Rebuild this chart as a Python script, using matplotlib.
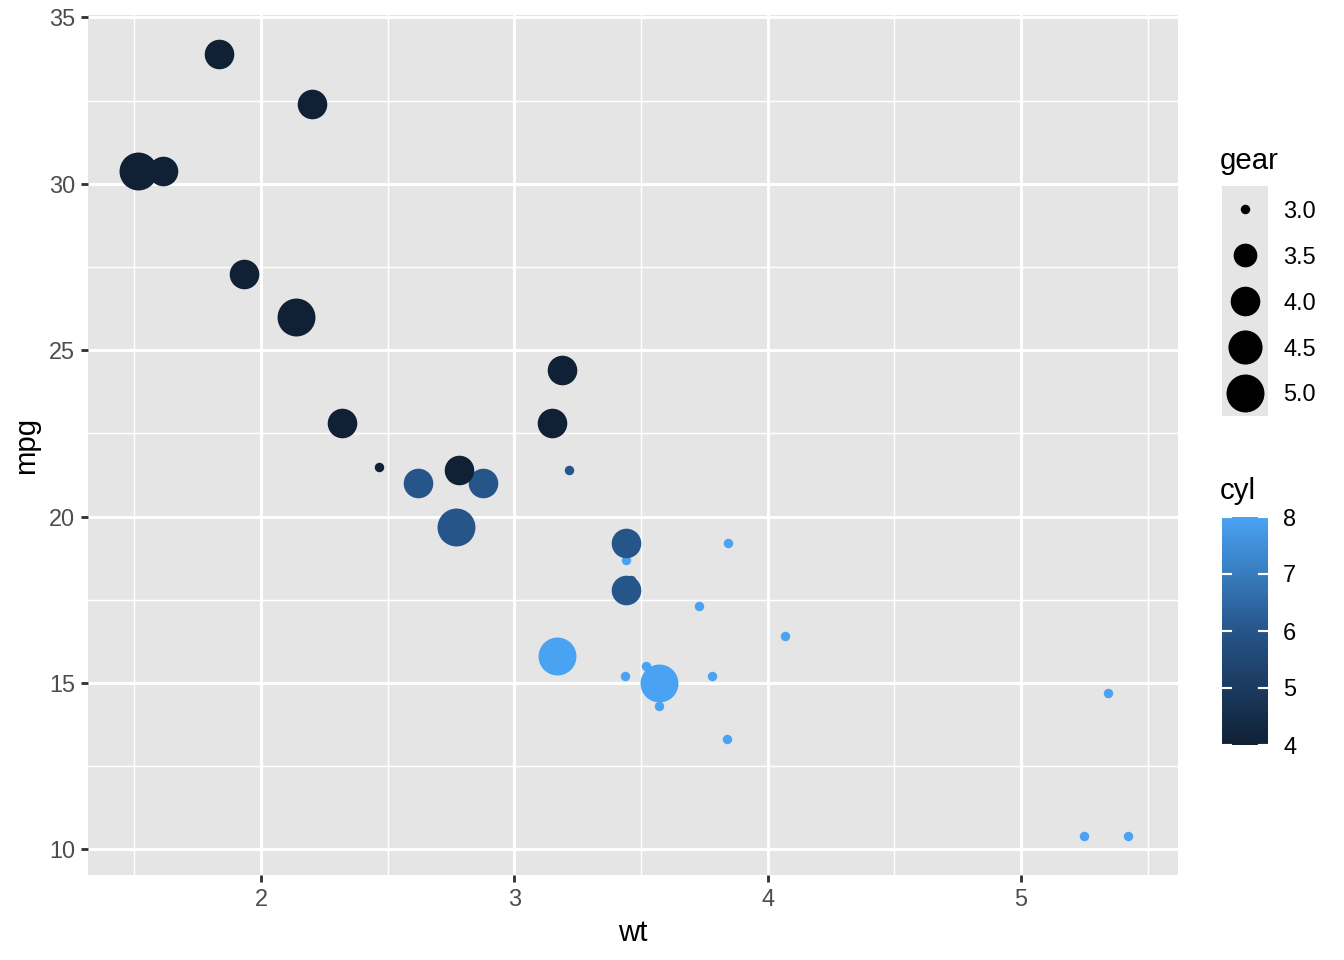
import matplotlib
matplotlib.use("Agg")
import matplotlib.pyplot as plt
import numpy as np
from matplotlib.colors import LinearSegmentedColormap

# mtcars: wt vs mpg, size = gear, colour = cyl
wt = [2.620, 2.875, 2.320, 3.215, 3.440, 3.460, 3.570, 3.190, 3.150, 3.440,
      3.440, 4.070, 3.730, 3.780, 5.250, 5.424, 5.345, 2.200, 1.615, 1.835,
      2.465, 3.520, 3.435, 3.840, 3.845, 1.935, 2.140, 1.513, 3.170, 2.770,
      3.570, 2.780]
mpg = [21.0, 21.0, 22.8, 21.4, 18.7, 18.1, 14.3, 24.4, 22.8, 19.2,
       17.8, 16.4, 17.3, 15.2, 10.4, 10.4, 14.7, 32.4, 30.4, 33.9,
       21.5, 15.5, 15.2, 13.3, 19.2, 27.3, 26.0, 30.4, 15.8, 19.7,
       15.0, 21.4]
cyl = [6, 6, 4, 6, 8, 6, 8, 4, 4, 6,
       6, 8, 8, 8, 8, 8, 8, 4, 4, 4,
       4, 8, 8, 8, 8, 4, 4, 4, 8, 6,
       8, 4]
gear = [4, 4, 4, 3, 3, 3, 3, 4, 4, 4,
        4, 3, 3, 3, 3, 3, 3, 4, 4, 4,
        3, 3, 3, 3, 3, 4, 5, 5, 5, 5,
        5, 4]

x_ticks = [2, 3, 4, 5]
y_ticks = [10, 15, 20, 25, 30, 35]
gear_breaks = [3.0, 3.5, 4.0, 4.5, 5.0]
cyl_breaks = [4, 5, 6, 7, 8]

W, H, DPI = 1344, 960, 192
fig = plt.figure(figsize=(W / DPI, H / DPI), dpi=DPI)
plt.rcParams["font.family"] = ["Liberation Sans", "DejaVu Sans"]

BG = "#E5E5E5"
cmap = LinearSegmentedColormap.from_list("gg", ["#112135", "#26558A", "#4AA3F2"])


def px(x, y, w, h):
    return [x / W, 1 - (y + h) / H, w / W, h / H]


def gear_size(g):
    # ggplot area scale, range 1..6 mm -> marker area in pt^2
    size = 1 + 5 * np.sqrt((np.asarray(g, dtype=float) - 3) / 2)
    fontsize = size * 2.845 + 0.945
    d_px = 0.75 * fontsize / 72 * DPI + 1.9
    return (d_px * 72 / DPI) ** 2


def cyl_color(c):
    return cmap((np.asarray(c, dtype=float) - 4) / 4)


ax = fig.add_axes(px(88, 15, 1090, 860))
ax.set_facecolor(BG)
for s in ax.spines.values():
    s.set_visible(False)

rng_x = max(wt) - min(wt)
rng_y = max(mpg) - min(mpg)
ax.set_xlim(min(wt) - 0.05 * rng_x, max(wt) + 0.05 * rng_x)
ax.set_ylim(min(mpg) - 0.05 * rng_y, max(mpg) + 0.05 * rng_y)

for v in [1.5, 2.5, 3.5, 4.5, 5.5]:
    ax.axvline(v, color="white", lw=0.55, zorder=0)
for v in [12.5, 17.5, 22.5, 27.5, 32.5]:
    ax.axhline(v, color="white", lw=0.55, zorder=0)
for v in x_ticks:
    ax.axvline(v, color="white", lw=1.1, zorder=0)
for v in y_ticks:
    ax.axhline(v, color="white", lw=1.1, zorder=0)

for i in range(len(wt)):
    ax.scatter(wt[i], mpg[i], s=gear_size(gear[i]), color=cyl_color(cyl[i]),
               linewidths=0, zorder=2 + i * 0.01)

ax.set_xticks(x_ticks)
ax.set_yticks(y_ticks)
ax.tick_params(length=2.75, width=1.07, color="#333333", labelcolor="#4D4D4D",
               labelsize=8.8, pad=2.2)
ax.set_xlabel("wt", fontsize=11, labelpad=2.8)
ax.set_ylabel("mpg", fontsize=11, labelpad=3.2)

# size legend
fig.text(1220 / W, 1 - 169 / H, "gear", fontsize=11, ha="left", va="baseline")
lax = fig.add_axes(px(1222, 186, 46, 230))
lax.set_facecolor(BG)
lax.set_xlim(0, 1)
lax.set_ylim(len(gear_breaks), 0)
lax.set_xticks([])
lax.set_yticks([])
for s in lax.spines.values():
    s.set_visible(False)
for k, g in enumerate(gear_breaks):
    lax.scatter(0.5, k + 0.5, s=gear_size(g), color="black", linewidths=0)
    fig.text(1283 / W, 1 - (211 + 46 * k) / H, f"{g:.1f}", fontsize=8.8,
             ha="left", va="center")

# colour bar
fig.text(1220 / W, 1 - 499 / H, "cyl", fontsize=11, ha="left", va="baseline")
cax = fig.add_axes(px(1222, 517, 46, 228))
grad = np.linspace(4, 8, 256).reshape(-1, 1)
cax.imshow(grad, aspect="auto", cmap=cmap, vmin=4, vmax=8, origin="lower",
           extent=[0, 1, 4, 8])
cax.set_xlim(0, 1)
cax.set_ylim(4, 8)
cax.set_xticks([])
cax.set_yticks([])
for s in cax.spines.values():
    s.set_visible(False)
for c in cyl_breaks:
    cax.plot([0, 0.2], [c, c], color="white", lw=0.8)
    cax.plot([0.8, 1], [c, c], color="white", lw=0.8)
    yy = 745 - (c - 4) / 4 * 228
    fig.text(1283 / W, 1 - (yy + 2) / H, str(c), fontsize=8.8, ha="left", va="center")

fig.savefig("out.png", dpi=DPI)
